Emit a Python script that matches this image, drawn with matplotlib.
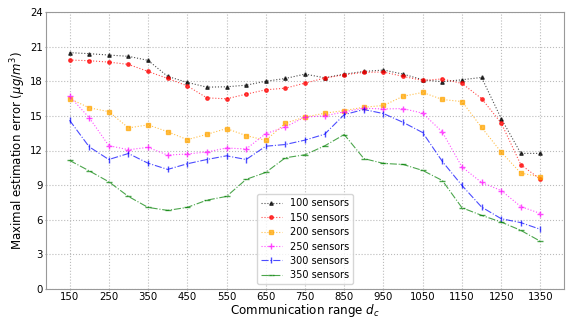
import numpy as np
import matplotlib
matplotlib.use('Agg')
import matplotlib.pyplot as plt

# communication range
x = list(range(150, 1351, 50))

# maximal estimation error per sensor count
s100 = [20.48, 20.39, 20.27, 20.16, 19.81, 18.42, 17.9, 17.49, 17.52, 17.66, 18.0, 18.24, 18.62,
        18.3, 18.62, 18.85, 18.97, 18.62, 18.13, 17.96, 18.13, 18.33, 14.77, 11.75, 11.75]
s150 = [19.84, 19.78, 19.66, 19.46, 18.85, 18.24, 17.6, 16.56, 16.48, 16.88, 17.26, 17.4, 17.84,
        18.27, 18.56, 18.77, 18.8, 18.42, 18.07, 18.2, 17.81, 16.5, 14.38, 10.77, 9.5]
s200 = [16.5, 15.7, 15.37, 13.96, 14.22, 13.63, 12.94, 13.4, 13.9, 13.29, 12.88, 14.37, 14.9,
        15.23, 15.46, 15.75, 15.9, 16.7, 17.03, 16.42, 16.24, 14.0, 11.86, 10.04, 9.72]
s250 = [16.7, 14.85, 12.42, 12.07, 12.27, 11.6, 11.7, 11.87, 12.22, 12.13, 13.46, 14.04, 14.9,
        15.0, 15.35, 15.66, 15.6, 15.63, 15.23, 13.6, 10.57, 9.23, 8.53, 7.14, 6.54]
s300 = [14.62, 12.32, 11.22, 11.74, 10.9, 10.36, 10.85, 11.22, 11.54, 11.22, 12.37, 12.52, 12.9,
        13.41, 15.11, 15.55, 15.2, 14.44, 13.55, 11.05, 8.97, 7.1, 6.09, 5.75, 5.17]
s350 = [11.14, 10.24, 9.29, 8.02, 7.07, 6.81, 7.07, 7.7, 8.02, 9.5, 10.1, 11.37, 11.63,
        12.4, 13.38, 11.3, 10.88, 10.79, 10.27, 9.4, 7.04, 6.38, 5.8, 5.08, 4.13]

labels = ['100 sensors', '150 sensors', '200 sensors', '250 sensors', '300 sensors', '350 sensors']
series = [s100, s150, s200, s250, s300, s350]
colors = ['black', 'red', 'orange', 'magenta', 'blue', 'green']
markers = ['^', 'o', 's', '+', '|', '_']
msizes = [2.5, 2.5, 2.5, 5, 5, 4]
styles = [':', ':', ':', ':', '-.', '-.']

fig = plt.figure(figsize=(5.69, 3.18), dpi=100)
ax = fig.add_axes([46 / 569, 29 / 318, 518 / 569, 277 / 318])

for y, lab, c, m, ms, ls in zip(series, labels, colors, markers, msizes, styles):
    ax.plot(x, y, color=c, marker=m, markersize=ms, linestyle=ls, lw=0.8, alpha=0.7, label=lab)

ax.set_ylim(0, 24)
ax.set_yticks(np.arange(0, 25, 3))
ax.set_xticks(np.arange(150, 1351, 100))
ax.grid(True, linestyle=':', color='#bbbbbb', lw=0.8)
for sp in ax.spines.values():
    sp.set_color('#999999')
ax.tick_params(labelsize=7.3, length=1, pad=1.5, color='#999999')
ax.set_xlabel('Communication range $d_c$', fontsize=8.6, labelpad=0)
ax.set_ylabel('Maximal estimation error ($\\mu g/m^3$)', fontsize=8.5, labelpad=1.5)
ax.legend(loc='lower center', fontsize=7, handlelength=2.2, labelspacing=0.45)

fig.savefig('out.png', dpi=100)
